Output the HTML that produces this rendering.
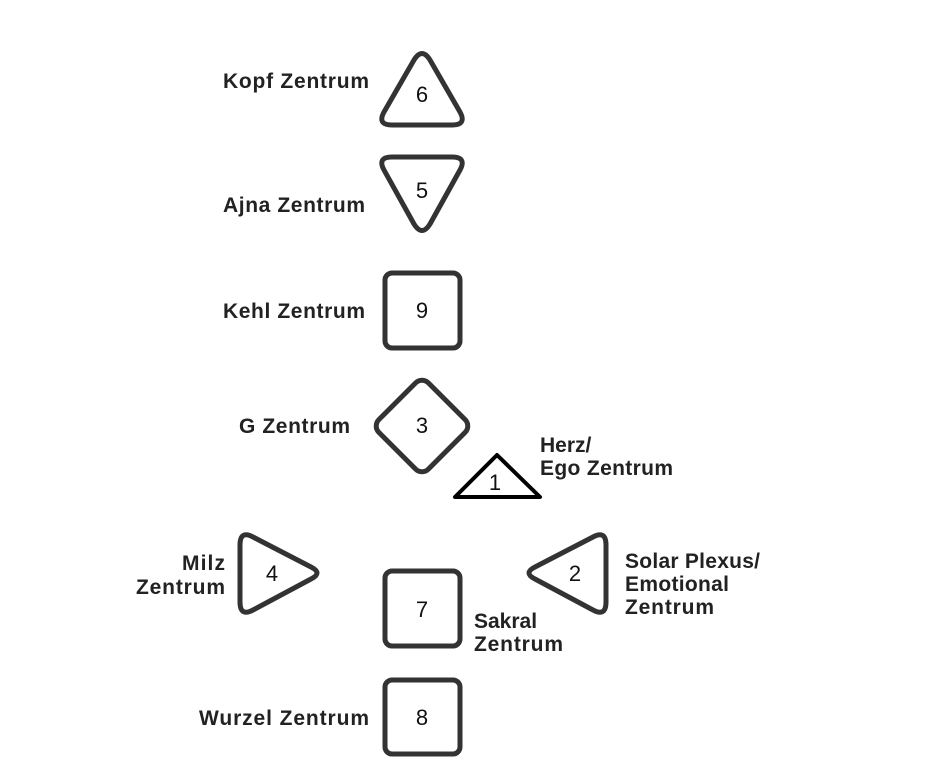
<!DOCTYPE html>
<html><head><meta charset="utf-8"><style>html,body{margin:0;padding:0;background:#fff}svg{display:block}</style></head>
<body>
<svg width="938" height="769" viewBox="0 0 938 769" xmlns="http://www.w3.org/2000/svg" font-family="Liberation Sans, sans-serif" font-weight="bold" font-size="21" fill="#222">
<g fill="none" stroke="#333" stroke-width="5" stroke-linejoin="round">
<path d="M414,60 Q422,47 430,60 L460,112 Q467,125 452,125 L392,125 Q377,125 384,112 Z"/>
<path d="M414,224 Q422,237 430,224 L460,170 Q467,157 452,157 L392,157 Q377,157 384,170 Z"/>
<rect x="385" y="273" width="75" height="75" rx="7"/>
<rect x="385" y="571" width="75" height="75" rx="7"/>
<rect x="385" y="680" width="75" height="74" rx="7"/>
<rect x="-35" y="-35" width="70" height="70" rx="9" transform="translate(422,426) rotate(45)"/>
<path d="M240,545 Q240,530 253,537 L311,567 Q323,573 311,579 L253,610 Q240,617 240,602 Z"/>
<path d="M606,545 Q606,530 593,537 L535,567 Q523,573 535,579 L593,610 Q606,617 606,602 Z"/>
</g>
<polygon points="497,455 540,497 455,497" fill="none" stroke="#000" stroke-width="4" stroke-linejoin="round"/>
<g text-anchor="middle" font-size="22" font-weight="normal" fill="#111">
<text x="422" y="102">6</text>
<text x="422" y="198">5</text>
<text x="422" y="318">9</text>
<text x="422" y="433">3</text>
<text x="495" y="490">1</text>
<text x="272" y="581">4</text>
<text x="575" y="581">2</text>
<text x="422" y="617">7</text>
<text x="422" y="725">8</text>
</g>
<g text-anchor="end">
<text x="369" y="88" textLength="146">Kopf Zentrum</text>
<text x="365" y="212" textLength="142">Ajna Zentrum</text>
<text x="365" y="318" textLength="142">Kehl Zentrum</text>
<text x="350" y="433" textLength="111">G Zentrum</text>
<text x="225" y="570" textLength="43">Milz</text>
<text x="225" y="594" textLength="89">Zentrum</text>
<text x="369" y="725" textLength="170">Wurzel Zentrum</text>
</g>
<text x="540" y="452">Herz/</text>
<text x="540" y="475" textLength="133">Ego Zentrum</text>
<text x="625" y="568" textLength="135">Solar Plexus/</text>
<text x="625" y="591" textLength="104">Emotional</text>
<text x="625" y="614" textLength="89">Zentrum</text>
<text x="474" y="628">Sakral</text>
<text x="474" y="651" textLength="89">Zentrum</text>
</svg>
</body></html>
